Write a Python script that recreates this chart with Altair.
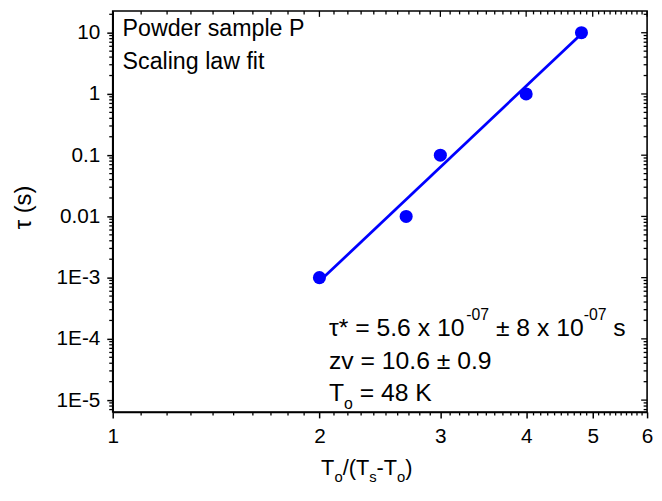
import altair as alt
import pandas as pd

# ---- data ----
x_vals = [2.0, 2.675, 3.0, 4.0, 4.815]          # T0/(Ts-T0)
tau_vals = [1e-3, 1e-2, 1e-1, 1.0, 10.0]         # tau (s)
fit_x = [2.0, 4.8]                               # scaling-law fit line end points
fit_tau = [8.7e-4, 9.3]

x_ticks = [1, 2, 3, 4, 5, 6]
x_tick_labels = ["1", "2", "3", "4", "5", "6"]
y_ticks = [10, 1, 0.1, 0.01, 1e-3, 1e-4, 1e-5]
y_tick_labels = ["10", "1", "0.1", "0.01", "1E-3", "1E-4", "1E-5"]
x_domain = [1, 6]
y_domain = [6.4e-6, 22.7]
x_minor = [round(i + k / 10, 1) for i in range(1, 6) for k in range(1, 10)]
y_minor = [m * 10.0 ** e for e in range(-6, 2) for m in range(2, 10)
           if y_domain[0] <= m * 10.0 ** e <= y_domain[1]]

title_lines = ["Powder sample P", "Scaling law fit"]
# (text, is_script, space_before) pieces of the fit annotation lines
tau_line = [("\u03c4* = 5.6 x 10", False, False), ("-07", True, False),
            ("\u00b1 8 x 10", False, True), ("-07", True, False), ("s", False, True)]
zv_line = [("zv = 10.6 \u00b1 0.9", False, False)]
t0_line = [("T", False, False), ("o", True, False), ("= 48 K", False, True)]
x_title = [("T", False, False), ("o", True, False), ("/(T", False, False),
           ("s", True, False), ("-T", False, False), ("o", True, False), (")", False, False)]
y_title = "\u03c4 (s)"

# ---- layout ----
W, H = 541, 406
PAD = {"left": 106, "top": 0, "right": 7, "bottom": 74}
FONT = "Liberation Sans"
BLUE = "#0000ff"

# Arial / Liberation Sans advance widths (em/1000), for placing text pieces
ADV = {" ": 278, "*": 389, "=": 584, "-": 333, ".": 278, "/": 278, "(": 333,
       ")": 333, "\u00b1": 549, "\u03c4": 470, "x": 500, "s": 500, "z": 500, "v": 500,
       "o": 556, "T": 611, "K": 667}


def text_w(s, size):
    return sum(ADV.get(c, 556) for c in s) * size / 1000.0


def label_expr(vals, labels):
    expr = ""
    for v, l in zip(vals, labels):
        expr += f"abs(datum.value - {v}) < {abs(v) * 1e-3} ? '{l}' : "
    return expr + "''"


xscale = alt.Scale(type="log", domain=x_domain, nice=False)
yscale = alt.Scale(type="log", domain=y_domain, nice=False)

common_axis = dict(title=None, grid=False, tickSize=6, tickWidth=1.5, tickColor="black",
                   domainColor="black", domainWidth=1.6, labelFont=FONT, labelFontSize=21,
                   labelColor="black", labelFlush=False, labelOverlap=False)
x_axis = alt.Axis(values=x_ticks, labelExpr=label_expr(x_ticks, x_tick_labels),
                  labelPadding=8, **common_axis)
y_axis = alt.Axis(values=y_ticks, labelExpr=label_expr(y_ticks, y_tick_labels),
                  labelPadding=7, **common_axis)

pts = pd.DataFrame({"x": x_vals, "tau": tau_vals})
fit = pd.DataFrame({"x": fit_x, "tau": fit_tau})
xmaj = pd.DataFrame({"v": x_ticks})
xmin = pd.DataFrame({"v": x_minor})
ymaj = pd.DataFrame({"v": y_ticks})
ymin = pd.DataFrame({"v": y_minor})
one = pd.DataFrame({"a": [0]})

line = alt.Chart(fit).mark_line(color=BLUE, strokeWidth=2.8).encode(
    x=alt.X("x:Q", scale=xscale, axis=x_axis),
    y=alt.Y("tau:Q", scale=yscale, axis=y_axis))
points = alt.Chart(pts).mark_circle(size=175, color=BLUE, opacity=1).encode(
    x=alt.X("x:Q", scale=xscale, axis=x_axis),
    y=alt.Y("tau:Q", scale=yscale, axis=y_axis))


def xtick(df, y0, y1):
    return alt.Chart(df).mark_rule(color="black", strokeWidth=1.3).encode(
        x=alt.X("v:Q", scale=xscale, axis=x_axis), y=alt.value(y0), y2=alt.value(y1))


def ytick(df, x0, x1):
    return alt.Chart(df).mark_rule(color="black", strokeWidth=1.3).encode(
        y=alt.Y("v:Q", scale=yscale, axis=y_axis), x=alt.value(x0), x2=alt.value(x1))


ticks = [
    xtick(xmin, H, H + 3.5),      # bottom minor (outward)
    xtick(xmaj, 0, 6),            # top major (inward)
    xtick(xmin, 0, 3.5),          # top minor (inward)
    ytick(ymin, 0, -3.5),         # left minor (outward)
    ytick(ymaj, W, W - 6),        # right major (inward)
    ytick(ymin, W, W - 3.5),      # right minor (inward)
]


def txt(text, x, y, size, align="left", baseline="alphabetic", angle=0):
    return alt.Chart(one).mark_text(text=text, font=FONT, fontSize=size, color="black",
                                    align=align, baseline=baseline, angle=angle).encode(
        x=alt.value(x), y=alt.value(y))


def rich(pieces, x0, base, size, ssize, shift):
    """Lay out text pieces left to right; script pieces are smaller and shifted."""
    out, x = [], x0
    for s, script, space in pieces:
        sz = ssize if script else size
        if space:
            x += text_w(" ", size)
        out.append(txt(s, x, base + (shift if script else 0), sz))
        x += text_w(s, sz)
    return out


texts = [
    txt(title_lines[0], 10, 25, 23.5),
    txt(title_lines[1], 10, 59, 23.5),
]
texts += rich(tau_line, 219, 329, 25, 16, -16)     # superscripts
texts += rich(zv_line, 219, 362, 25, 16, 0)
texts += rich(t0_line, 219, 395, 25, 16, 8)        # subscript
texts += rich(x_title, 211, 470, 22, 15, 7)        # subscripts
texts.append(txt(y_title, -90, 199, 24, align="center", baseline="middle", angle=270))

chart = alt.layer(*ticks, line, points, *texts).properties(
    width=W, height=H, padding=PAD,
    autosize=alt.AutoSizeParams(type="none"),
).configure_view(stroke="black", strokeWidth=1.6)

chart.save("out.html", embed_options={"renderer": "svg", "actions": False})
